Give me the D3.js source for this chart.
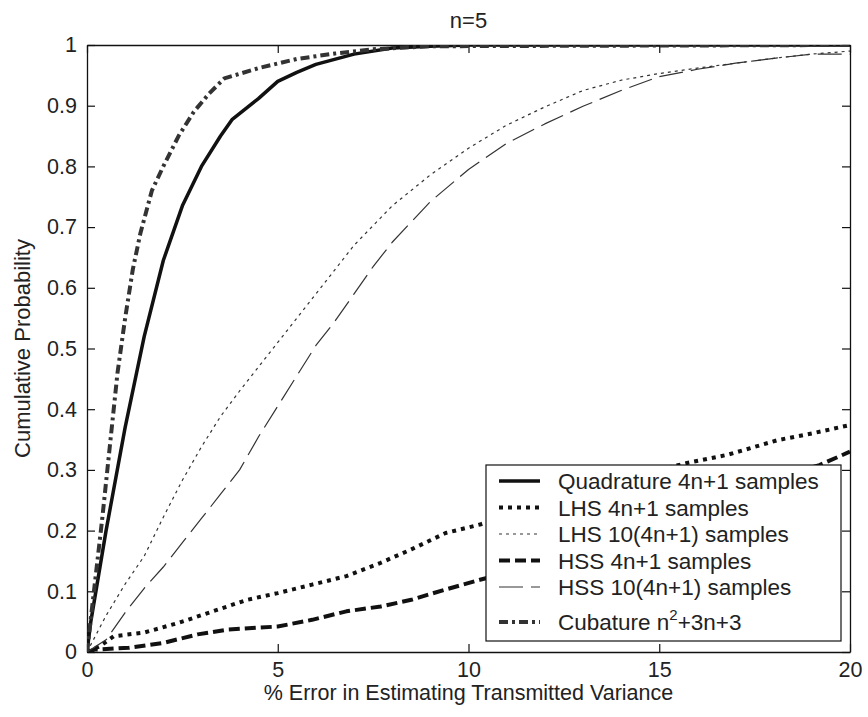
<!DOCTYPE html>
<html>
<head>
<meta charset="utf-8">
<script src="https://cdn.jsdelivr.net/npm/d3@7"></script>
<style>
  body { margin: 0; background: #fff; }
  svg text { font-family: "Liberation Sans", Arial, sans-serif; fill: #222; }
</style>
</head>
<body>
<div id="chart"></div>
<script>
// tick values
const xTicks = [0, 5, 10, 15, 20]
const yTicks = [0, 0.1, 0.2, 0.3, 0.4, 0.5, 0.6, 0.7, 0.8, 0.9, 1]

// series: % error vs cumulative probability
const quadErr  = [0, 0.1, 0.5, 1, 1.5, 2, 2.5, 3, 3.5, 3.8, 4.5, 5, 5.5, 6, 7, 8, 9, 10, 20]
const quadProb = [0, 0.05, 0.2, 0.37, 0.52, 0.645, 0.735, 0.8, 0.85, 0.877, 0.912, 0.94, 0.955, 0.968, 0.985, 0.995, 0.998, 1, 1]

const lhsErr  = [0, 0.35, 0.7, 1.5, 2.4, 3.3, 4.2, 5, 5.9, 6.8, 7.7, 8.5, 9.4, 10.3, 11, 12, 13, 14, 15, 15.7, 16.8, 18.1, 19, 20]
const lhsProb = [0, 0.01, 0.026, 0.032, 0.048, 0.067, 0.086, 0.097, 0.111, 0.125, 0.147, 0.169, 0.196, 0.21, 0.225, 0.245, 0.265, 0.284, 0.3, 0.311, 0.325, 0.349, 0.36, 0.374]

const lhs10Err  = [0, 0.5, 1, 1.5, 2, 2.5, 3, 3.5, 4, 4.5, 5, 5.5, 6, 7, 8, 9, 10, 11, 12, 13, 14, 15, 16, 17, 18, 19, 20]
const lhs10Prob = [0, 0.06, 0.112, 0.158, 0.222, 0.283, 0.338, 0.388, 0.43, 0.47, 0.51, 0.55, 0.59, 0.67, 0.735, 0.786, 0.83, 0.868, 0.898, 0.925, 0.942, 0.953, 0.962, 0.97, 0.978, 0.985, 0.99]

const hssErr  = [0, 0.2, 1.1, 2, 2.9, 3.7, 5, 5.9, 6.8, 7.7, 8.5, 9.4, 10.3, 11, 12, 13, 14, 15, 16, 17, 18, 19.2, 20]
const hssProb = [0, 0.004, 0.007, 0.015, 0.029, 0.037, 0.042, 0.053, 0.067, 0.075, 0.086, 0.103, 0.119, 0.13, 0.15, 0.17, 0.19, 0.21, 0.235, 0.26, 0.285, 0.308, 0.33]

const hss10Err  = [0, 0.5, 1, 1.5, 2, 2.5, 3, 3.5, 4, 4.5, 5, 5.5, 6, 6.5, 7, 7.5, 8, 9, 10, 11, 12, 13, 14, 15, 16, 17, 18, 19, 20]
const hss10Prob = [0, 0.02, 0.065, 0.105, 0.14, 0.18, 0.22, 0.26, 0.3, 0.355, 0.405, 0.455, 0.505, 0.545, 0.59, 0.635, 0.675, 0.742, 0.795, 0.838, 0.87, 0.899, 0.925, 0.948, 0.96, 0.97, 0.978, 0.985, 0.985]

const cubErr  = [0, 0.2, 0.4, 0.6, 0.8, 1, 1.2, 1.4, 1.7, 2, 2.4, 2.8, 3.2, 3.6, 4.5, 5.5, 6.5, 7.5, 9, 20]
const cubProb = [0, 0.11, 0.22, 0.34, 0.46, 0.55, 0.63, 0.69, 0.76, 0.8, 0.85, 0.89, 0.92, 0.945, 0.962, 0.977, 0.986, 0.993, 0.998, 1]

const legendLabels = ['Quadrature 4n+1 samples', 'LHS 4n+1 samples', 'LHS 10(4n+1) samples',
  'HSS 4n+1 samples', 'HSS 10(4n+1) samples', 'Cubature n']

// line styles, in legend order
const series = [
  { err: quadErr,  prob: quadProb,  width: 3.5, dash: null,      color: '#111' },
  { err: lhsErr,   prob: lhsProb,   width: 4,   dash: '4,5',     color: '#111' },
  { err: lhs10Err, prob: lhs10Prob, width: 1.2, dash: '3,4',     color: '#333' },
  { err: hssErr,   prob: hssProb,   width: 4,   dash: '11,5',    color: '#111' },
  { err: hss10Err, prob: hss10Prob, width: 1.2, dash: '24,8',    color: '#333' },
  { err: cubErr,   prob: cubProb,   width: 4,   dash: '9,4,3,4', color: '#333' }
]

const width = 868, height = 717
const margin = { top: 45, right: 18, bottom: 65, left: 87 }
const w = width - margin.left - margin.right
const h = height - margin.top - margin.bottom

const svg = d3.select('#chart').append('svg')
  .attr('width', width)
  .attr('height', height)

const g = svg.append('g')
  .attr('transform', 'translate(' + margin.left + ',' + margin.top + ')')

const x = d3.scaleLinear().domain([0, 20]).range([0, w])
const y = d3.scaleLinear().domain([0, 1]).range([h, 0])

g.append('clipPath').attr('id', 'plot-clip')
  .append('rect').attr('width', w).attr('height', h)

// axes, ticks inward on all four sides
const fmt = d => d3.format('~g')(d)
const styleAxis = sel => {
  sel.selectAll('path').attr('stroke', '#111').attr('stroke-width', 1.3)
  sel.selectAll('line').attr('stroke', '#111').attr('stroke-width', 1.2)
  sel.selectAll('text').attr('font-size', 21.5).attr('fill', '#222')
    .attr('font-family', '"Liberation Sans", Arial, sans-serif')
}

g.append('g').attr('transform', 'translate(0,' + h + ')')
  .call(d3.axisBottom(x).tickValues(xTicks).tickFormat(fmt).tickSize(-8).tickSizeOuter(0).tickPadding(10))
  .call(styleAxis)
g.append('g')
  .call(d3.axisTop(x).tickValues(xTicks).tickFormat('').tickSize(-8).tickSizeOuter(0))
  .call(styleAxis)
g.append('g')
  .call(d3.axisLeft(y).tickValues(yTicks).tickFormat(fmt).tickSize(-8).tickSizeOuter(0).tickPadding(10))
  .call(styleAxis)
g.append('g').attr('transform', 'translate(' + w + ',0)')
  .call(d3.axisRight(y).tickValues(yTicks).tickFormat('').tickSize(-8).tickSizeOuter(0))
  .call(styleAxis)

// curves
const line = d3.line().x(d => x(d[0])).y(d => y(d[1]))

g.append('g').attr('clip-path', 'url(#plot-clip)')
  .selectAll('path')
  .data(series)
  .enter().append('path')
    .attr('d', s => line(s.err.map((e, i) => [e, s.prob[i]])))
    .attr('fill', 'none')
    .attr('stroke', s => s.color)
    .attr('stroke-width', s => s.width)
    .attr('stroke-dasharray', s => s.dash)
    .attr('stroke-linejoin', 'round')

// titles
svg.append('text')
  .attr('x', margin.left + w / 2).attr('y', 28)
  .attr('text-anchor', 'middle').attr('font-size', 22)
  .text('n=5')

svg.append('text')
  .attr('x', margin.left + w / 2).attr('y', 700)
  .attr('text-anchor', 'middle').attr('font-size', 21.5)
  .text('% Error in Estimating Transmitted Variance')

svg.append('text')
  .attr('transform', 'translate(30,' + (margin.top + h / 2) + ') rotate(-90)')
  .attr('text-anchor', 'middle').attr('font-size', 22)
  .text('Cumulative Probability')

// legend
const legend = svg.append('g').attr('transform', 'translate(486,465)')
legend.append('rect')
  .attr('width', 355).attr('height', 176)
  .attr('fill', '#fff').attr('stroke', '#111').attr('stroke-width', 1.2)

const rows = legend.selectAll('g.row')
  .data(series)
  .enter().append('g')
    .attr('class', 'row')
    .attr('transform', (s, i) => 'translate(0,' + (24 + i * 26.5 + (i === 5 ? 8.5 : 0)) + ')')

rows.append('line')
  .attr('x1', 13).attr('x2', 54).attr('y1', -8).attr('y2', -8)
  .attr('stroke', s => s.color)
  .attr('stroke-width', s => s.width)
  .attr('stroke-dasharray', s => s.dash)

const labels = rows.append('text')
  .attr('x', 72).attr('font-size', 22.5)
  .text((s, i) => legendLabels[i])

labels.filter((s, i) => i === 5).each(function () {
  const t = d3.select(this)
  t.append('tspan').attr('dy', -10).attr('font-size', 15).text('2')
  t.append('tspan').attr('dy', 10).text('+3n+3')
})
</script>
</body>
</html>
